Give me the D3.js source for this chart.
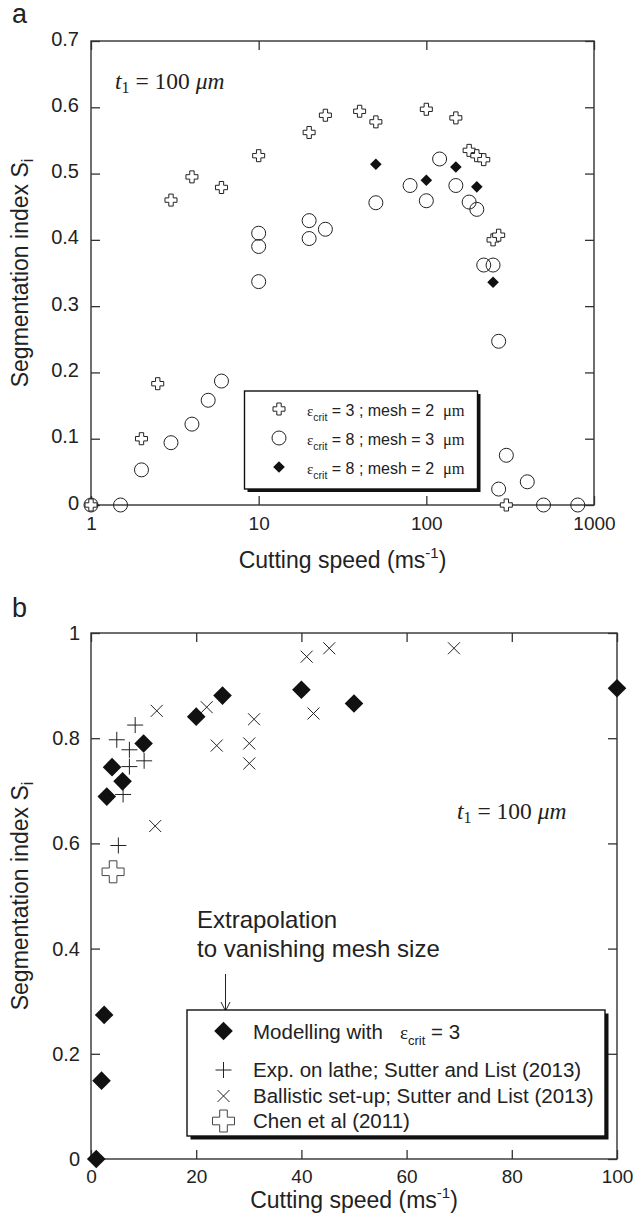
<!DOCTYPE html>
<html><head><meta charset="utf-8">
<script src="https://cdn.jsdelivr.net/npm/d3@7"></script>
<style>body{margin:0;background:#fff}svg{display:block}</style>
</head><body>
<script>
// ---------- Panel a data ----------
const aCrossX = [1, 2, 2.5, 3, 4, 6, 10, 20, 25, 40, 50, 100, 150, 180, 200, 220, 250, 270, 300];
const aCrossY = [0, 0.1, 0.183, 0.46, 0.495, 0.479, 0.527, 0.562, 0.588, 0.594, 0.578, 0.597, 0.584, 0.535, 0.527, 0.521, 0.40, 0.407, 0];
const aCircleX = [1, 1.5, 2, 3, 4, 5, 6, 10, 10, 10, 20, 20, 25, 50, 80, 100, 120, 150, 180, 200, 220, 250, 270, 270, 300, 400, 500, 800];
const aCircleY = [0, 0, 0.053, 0.094, 0.122, 0.158, 0.187, 0.41, 0.39, 0.337, 0.429, 0.402, 0.416, 0.456, 0.482, 0.459, 0.522, 0.482, 0.457, 0.446, 0.362, 0.362, 0.247, 0.024, 0.075, 0.035, 0, 0];
const aDiamondX = [50, 100, 150, 200, 250];
const aDiamondY = [0.514, 0.49, 0.51, 0.48, 0.336];
const aYTicks = [0, 0.1, 0.2, 0.3, 0.4, 0.5, 0.6, 0.7];
const aYLabels = ["0", "0.1", "0.2", "0.3", "0.4", "0.5", "0.6", "0.7"];
const aXTicks = [1, 10, 100, 1000];
const aXLabels = ["1", "10", "100", "1000"];
const aLegendEps = ["3", "8", "8"];
const aLegendMesh = ["2", "3", "2"];

// ---------- Panel b data ----------
const bModelX = [1, 2, 2.5, 3, 4, 6, 10, 20, 25, 40, 50, 100];
const bModelY = [0, 0.149, 0.274, 0.689, 0.745, 0.718, 0.79, 0.841, 0.881, 0.892, 0.866, 0.895];
const bLatheX = [4.9, 5.2, 6.1, 7.3, 7.3, 8.4, 10.1];
const bLatheY = [0.797, 0.596, 0.693, 0.778, 0.746, 0.825, 0.757];
const bBallX = [12.2, 12.5, 22, 23.9, 30.1, 30.1, 31, 41, 42.3, 45.3, 69];
const bBallY = [0.633, 0.852, 0.859, 0.786, 0.79, 0.752, 0.836, 0.955, 0.847, 0.971, 0.971];
const bChenX = [4.2];
const bChenY = [0.546];
const bYTicks = [0, 0.2, 0.4, 0.6, 0.8, 1];
const bYLabels = ["0", "0.2", "0.4", "0.6", "0.8", "1"];
const bXTicks = [0, 20, 40, 60, 80, 100];
const bXLabels = ["0", "20", "40", "60", "80", "100"];
const bLegendLabels = ["Exp. on lathe; Sutter and List (2013)", "Ballistic set-up; Sutter and List (2013)", "Chen et al (2011)"];

const SANS = "'Liberation Sans', Arial, sans-serif";
const SERIF = "'Liberation Serif', 'Times New Roman', serif";
const INK = "#222";
const AX = "#333";
const NB = "\u00A0";

const svg = d3.select("body").append("svg").attr("width", 633).attr("height", 1225)
  .style("font-family", SANS);

function greekCross(s, arm) {
  return `M${-arm},${-s}H${arm}V${-arm}H${s}V${arm}H${arm}V${s}H${-arm}V${arm}H${-s}V${-arm}H${-arm}Z`;
}
function diamond(r) { return `M0,${-r}L${r},0L0,${r}L${-r},0Z`; }
function plus(r) { return `M${-r},0H${r}M0,${-r}V${r}`; }
function xmark(r) { return `M${-r},${-r}L${r},${r}M${-r},${r}L${r},${-r}`; }

function frameAxes(g, x, y, xt, xl, yt, yl, xPad, yPad, yDy) {
  const [x0, x1] = x.range(), [y0, y1] = y.range();
  const styleAxis = sel => {
    sel.select(".domain").remove();
    sel.selectAll(".tick line").attr("stroke", AX).attr("stroke-width", 1.3);
    sel.selectAll("text").attr("fill", INK).style("font-family", SANS);
  };
  g.append("g").attr("transform", `translate(0,${y0})`)
    .call(d3.axisBottom(x).tickValues(xt).tickFormat((d, i) => xl[i]).tickSize(-9).tickPadding(xPad))
    .call(styleAxis).call(s => s.selectAll("text").style("font-size", "19px"));
  g.append("g").attr("transform", `translate(0,${y1})`)
    .call(d3.axisTop(x).tickValues(xt).tickFormat("").tickSize(-9))
    .call(styleAxis);
  g.append("g").attr("transform", `translate(${x0},0)`)
    .call(d3.axisLeft(y).tickValues(yt).tickFormat((d, i) => yl[i]).tickSize(-9).tickPadding(yPad))
    .call(styleAxis).call(s => s.selectAll("text").style("font-size", "20px").attr("dy", yDy));
  g.append("g").attr("transform", `translate(${x1},0)`)
    .call(d3.axisRight(y).tickValues(yt).tickFormat("").tickSize(-9))
    .call(styleAxis);
  g.append("rect").attr("x", x0).attr("y", y1).attr("width", x1 - x0).attr("height", y0 - y1)
    .attr("fill", "none").attr("stroke", AX).attr("stroke-width", 1.4);
}

function axisTitles(g, cx, cyX, cxY, cyY) {
  const t = g.append("text").attr("x", cx).attr("y", cyX).attr("text-anchor", "middle")
    .style("font-size", "23px").attr("fill", INK);
  t.append("tspan").text("Cutting speed (ms");
  t.append("tspan").text("-1").style("font-size", "15px").attr("dy", -10);
  t.append("tspan").text(")").attr("dy", 10);
  const ty = g.append("text").attr("transform", `translate(${cxY},${cyY}) rotate(-90)`)
    .attr("text-anchor", "middle").style("font-size", "23px").attr("fill", INK);
  ty.append("tspan").text("Segmentation index S");
  ty.append("tspan").text("i").style("font-size", "16px").attr("dy", 5);
}

function t1Label(g, x, y) {
  const t = g.append("text").attr("x", x).attr("y", y).style("font-family", SERIF)
    .style("font-size", "23.5px").attr("fill", INK);
  t.append("tspan").text("t").style("font-style", "italic");
  t.append("tspan").text("1").style("font-size", "16px").attr("dy", 4);
  t.append("tspan").text(`${NB}=${NB}100${NB}`).attr("dy", -4);
  t.append("tspan").text("\u03BCm").style("font-style", "italic");
}

// ================= Panel a =================
const xA = d3.scaleLog().domain([1, 1000]).range([91, 594]);
const yA = d3.scaleLinear().domain([0, 0.7]).range([505, 41]);
const gA = svg.append("g");

gA.append("text").attr("x", 12).attr("y", 23).text("a").style("font-size", "27px").attr("fill", INK);
frameAxes(gA, xA, yA, aXTicks, aXLabels, aYTicks, aYLabels, 11.5, 12, "0.2em");
axisTitles(gA, 342.5, 568, 28, 273);
t1Label(gA, 115, 89);

gA.append("g").selectAll("circle").data(aCircleX).join("circle")
  .attr("cx", d => xA(d)).attr("cy", (d, i) => yA(aCircleY[i])).attr("r", 7)
  .attr("fill", "none").attr("stroke", INK).attr("stroke-width", 1);
gA.append("g").selectAll("path").data(aCrossX).join("path")
  .attr("transform", (d, i) => `translate(${xA(d)},${yA(aCrossY[i])})`)
  .attr("d", greekCross(6, 2.2)).attr("fill", "#fff").attr("stroke", INK).attr("stroke-width", 1);
gA.append("g").selectAll("path").data(aDiamondX).join("path")
  .attr("transform", (d, i) => `translate(${xA(d)},${yA(aDiamondY[i])})`)
  .attr("d", diamond(5.8)).attr("fill", "#111");

// legend a
const lgA = gA.append("g");
lgA.append("rect").attr("x", 247.5).attr("y", 394).attr("width", 233).attr("height", 98).attr("fill", "#111");
lgA.append("rect").attr("x", 244.5).attr("y", 391).attr("width", 233).attr("height", 98)
  .attr("fill", "#fff").attr("stroke", "#111").attr("stroke-width", 1.4);
const aRowY = [409, 438, 467];
lgA.append("path").attr("transform", `translate(279,${aRowY[0]})`).attr("d", greekCross(6, 2.2))
  .attr("fill", "#fff").attr("stroke", INK);
lgA.append("circle").attr("cx", 279).attr("cy", aRowY[1]).attr("r", 7).attr("fill", "none").attr("stroke", INK);
lgA.append("path").attr("transform", `translate(279,${aRowY[2]})`).attr("d", diamond(5.8)).attr("fill", "#111");
aRowY.forEach((ry, i) => {
  const t = lgA.append("text").attr("x", 307).attr("y", ry + 6.5).style("font-size", "16px").attr("fill", INK);
  t.append("tspan").text("\u03B5").style("font-family", SERIF).style("font-size", "15px");
  t.append("tspan").text("crit").style("font-size", "10.5px").attr("dy", 5);
  t.append("tspan").text(`${NB}=${NB}${aLegendEps[i]}${NB};${NB}mesh${NB}=${NB}${aLegendMesh[i]}${NB}${NB}`).attr("dy", -5);
  t.append("tspan").text("\u03BCm").style("font-family", SERIF).style("font-size", "16.5px");
});

// ================= Panel b =================
const xB = d3.scaleLinear().domain([0, 100]).range([91, 617]);
const yB = d3.scaleLinear().domain([0, 1]).range([1159, 633]);
const gB = svg.append("g");

gB.append("text").attr("x", 12).attr("y", 617).text("b").style("font-size", "27px").attr("fill", INK);
frameAxes(gB, xB, yB, bXTicks, bXLabels, bYTicks, bYLabels, 10.5, 11, "0.32em");
axisTitles(gB, 354, 1208, 28, 896);
t1Label(gB, 457, 819);

const ann = gB.append("text").style("font-size", "24px").attr("fill", INK);
ann.append("tspan").attr("x", 197).attr("y", 928).text("Extrapolation");
ann.append("tspan").attr("x", 197).attr("y", 957).text("to vanishing mesh size");
gB.append("path").attr("d", "M225.5,974V1011M221,1002L225.5,1011L230,1002")
  .attr("fill", "none").attr("stroke", INK).attr("stroke-width", 1);

// legend b
const lgB = gB.append("g");
lgB.append("rect").attr("x", 190.5).attr("y", 1013.5).attr("width", 418).attr("height", 126).attr("fill", "#111");
lgB.append("rect").attr("x", 187).attr("y", 1010).attr("width", 418).attr("height", 126)
  .attr("fill", "#fff").attr("stroke", "#111").attr("stroke-width", 1.4);
lgB.append("path").attr("transform", "translate(223.5,1031)").attr("d", diamond(9.3)).attr("fill", "#111");
lgB.append("path").attr("transform", "translate(223.5,1070)").attr("d", plus(8)).attr("stroke", INK).attr("fill", "none");
lgB.append("path").attr("transform", "translate(223.5,1096)").attr("d", xmark(6)).attr("stroke", INK).attr("fill", "none");
lgB.append("path").attr("transform", "translate(223.5,1121)").attr("d", greekCross(11, 3.8))
  .attr("fill", "#fff").attr("stroke", "#444");
const m = lgB.append("text").attr("x", 253).attr("y", 1039).style("font-size", "20.5px").attr("fill", INK);
m.append("tspan").text(`Modelling with${NB}${NB}${NB}`);
m.append("tspan").text("\u03B5").style("font-family", SERIF).style("font-size", "19px");
m.append("tspan").text("crit").style("font-size", "13px").attr("dy", 6);
m.append("tspan").text(`${NB}=${NB}3`).attr("dy", -6);
[1077, 1103, 1128].forEach((by, i) => {
  lgB.append("text").attr("x", 253).attr("y", by).style("font-size", "20.5px").attr("fill", INK).text(bLegendLabels[i]);
});

// marks b
gB.append("g").selectAll("path").data(bBallX).join("path")
  .attr("transform", (d, i) => `translate(${xB(d)},${yB(bBallY[i])})`)
  .attr("d", xmark(6)).attr("stroke", INK).attr("fill", "none").attr("stroke-width", 1);
gB.append("g").selectAll("path").data(bLatheX).join("path")
  .attr("transform", (d, i) => `translate(${xB(d)},${yB(bLatheY[i])})`)
  .attr("d", plus(8)).attr("stroke", INK).attr("fill", "none").attr("stroke-width", 1);
gB.append("g").selectAll("path").data(bChenX).join("path")
  .attr("transform", (d, i) => `translate(${xB(d)},${yB(bChenY[i])})`)
  .attr("d", greekCross(11, 3.8)).attr("stroke", "#444").attr("fill", "#fff").attr("stroke-width", 1);
gB.append("g").selectAll("path").data(bModelX).join("path")
  .attr("transform", (d, i) => `translate(${xB(d)},${yB(bModelY[i])})`)
  .attr("d", diamond(9.3)).attr("fill", "#111");
</script>
</body></html>
